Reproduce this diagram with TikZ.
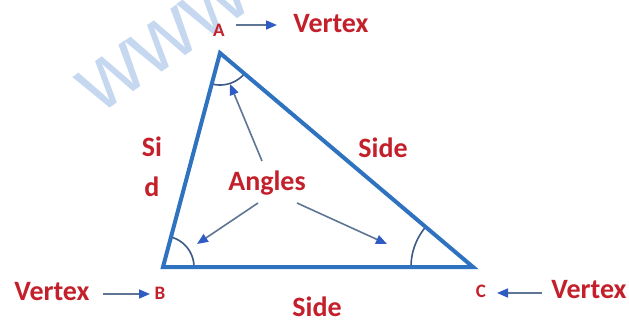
\documentclass[tikz,border=0pt]{standalone}
\usepackage{fontspec}
\setmainfont{Carlito}
\newfontfamily\wmfont{Liberation Sans}
\usetikzlibrary{arrows.meta}
\definecolor{txtred}{HTML}{C4202B}
\definecolor{triblue}{HTML}{2E72C0}
\definecolor{arrblue}{HTML}{2F5CC4}
\definecolor{shaft}{HTML}{5E7594}
\definecolor{arcc}{HTML}{3E5A86}
\definecolor{wm}{HTML}{C5D8F0}
\begin{document}
\begin{tikzpicture}[x=1pt,y=-1pt,
  lbl/.style={text=txtred, font=\bfseries\fontsize{28}{30}\selectfont, inner sep=0pt},
  vlbl/.style={text=txtred, font=\bfseries\fontsize{19}{21}\selectfont, inner sep=0pt},
  sideline/.style={draw=triblue, line width=4pt, line join=miter},
  ptr/.style={draw=shaft, line width=1.6pt, -{Triangle[length=11pt,width=9pt,color=arrblue]}},
  angarc/.style={draw=arcc, line width=1.6pt}]
\fill[white] (0,0) rectangle (629,321);
\useasboundingbox (0,0) rectangle (629,321);
% watermark
\node[text=wm, font=\wmfont\fontsize{88}{88}\selectfont, rotate=35, inner sep=0pt] (wmark) at (164,42) {www};
% triangle
\coordinate (A) at (220,53);
\coordinate (B) at (163,267);
\coordinate (C) at (473,267);
\draw[angarc, shift={(A)}] plot[domain=40.2:104.9, samples=24] (\x:32);
\draw[angarc, shift={(B)}] plot[domain=-75.1:0, samples=24] (\x:31);
\draw[angarc, shift={(C)}] plot[domain=180:220.2, samples=24] (\x:62);
\draw[sideline] (A) -- (B) -- (C) -- cycle;
% labels
\node[vlbl] (alab) at (219,30) {A};
\node[vlbl] (blab) at (160,293) {B};
\node[vlbl] (clab) at (481,291) {C};
\node[lbl] (vtop) at (331,23.5) {Vertex};
\node[lbl] (vleft) at (52,292) {Vertex};
\node[lbl] (vright) at (589,290) {Vertex};
\node[lbl] (si) at (152,147) {Si};
\node[lbl] (dd) at (152,187) {d};
\node[lbl] (sideac) at (383,148) {Side};
\node[lbl] (sidebc) at (317,307) {Side};
\node[lbl, anchor=base] (angles) at (267,190) {Angles};
% arrows
\coordinate (t1) at (236,25); \coordinate (t2) at (277,25);
\draw[ptr] (t1) -- (t2);
\coordinate (l1) at (103,294); \coordinate (l2) at (150,294);
\draw[ptr] (l1) -- (l2);
\coordinate (r1) at (542,293); \coordinate (r2) at (497,293);
\draw[ptr] (r1) -- (r2);
\coordinate (ga1) at (262,161); \coordinate (ga2) at (230,84);
\coordinate (gb1) at (258,203); \coordinate (gb2) at (197,244);
\coordinate (gc1) at (297,203); \coordinate (gc2) at (387,244);
\draw[ptr] (ga1) -- (ga2);
\draw[ptr] (gb1) -- (gb2);
\draw[ptr] (gc1) -- (gc2);
\end{tikzpicture}
\end{document}
